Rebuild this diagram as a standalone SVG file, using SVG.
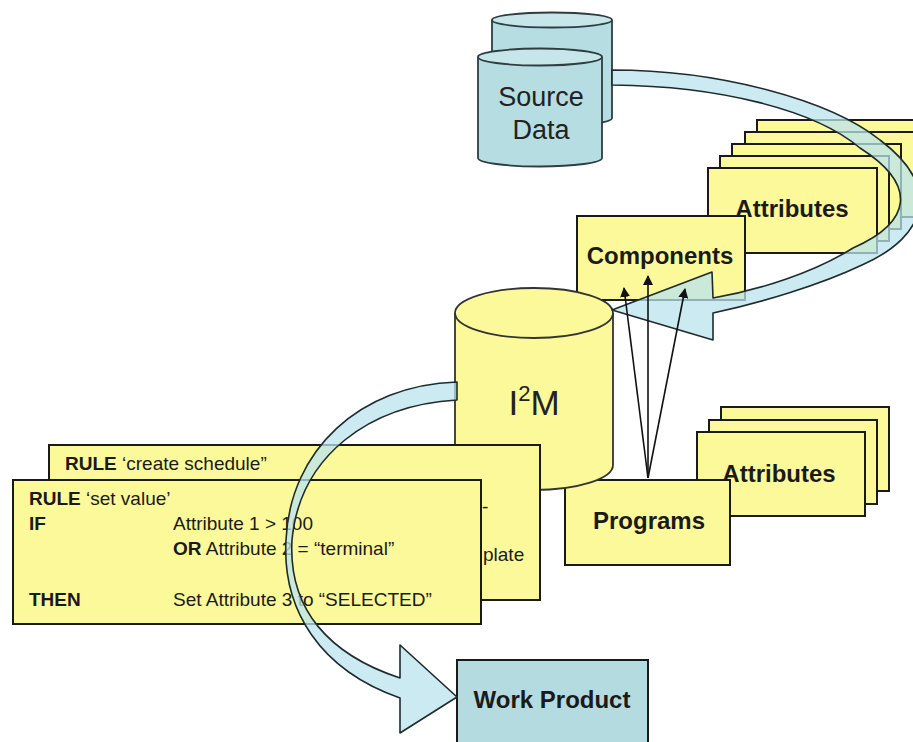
<svg xmlns="http://www.w3.org/2000/svg" width="913" height="742" viewBox="0 0 913 742">
  <defs>
    <marker id="tip" viewBox="0 0 10 10" refX="9" refY="5" markerWidth="10" markerHeight="10" markerUnits="userSpaceOnUse" orient="auto">
      <path d="M0,0 L10,5 L0,10 Z" fill="#111"/>
    </marker>
    <style>
      .box { fill: #fcf99a; stroke: #1a1a1a; stroke-width: 2; }
      .cyl { fill: #fcf99a; stroke: #333; stroke-width: 1.8; }
      .teal { fill: #b6dde2; stroke: #2e3d3f; stroke-width: 1.8; }
      .tealtop { fill: #c6e6ea; stroke: #2e3d3f; stroke-width: 1.8; }
      .flow { fill: #b9e3ec; fill-opacity: 0.75; stroke: #1e2a2c; stroke-width: 1.6; stroke-linejoin: round; }
      .lbl { font-family: "Liberation Sans", Arial, sans-serif; font-weight: bold; font-size: 24px; fill: #1a1a1a; text-anchor: middle; }
      .rule { font-family: "Liberation Sans", Arial, sans-serif; font-size: 19px; fill: #1a1a1a; }
      .b { font-weight: bold; }
      .ptr { stroke: #111; stroke-width: 1.6; fill: none; marker-end: url(#tip); }
    </style>
  </defs>
  <rect width="913" height="742" fill="#ffffff"/>

  <!-- Source Data: two stacked drums -->
  <g id="source-data">
    <path class="teal" d="M492,20 V118 A60,8 0 0 0 612,118 V20"/>
    <ellipse class="tealtop" cx="552" cy="20" rx="60" ry="7.5"/>
    <path class="teal" d="M478,57 V158 A62,8.5 0 0 0 602,158 V57"/>
    <ellipse class="tealtop" cx="540" cy="57" rx="62" ry="8.5"/>
    <text style="font-family:'Liberation Sans',Arial,sans-serif;font-size:27px;fill:#222;text-anchor:middle" x="541" y="106">Source</text>
    <text style="font-family:'Liberation Sans',Arial,sans-serif;font-size:27px;fill:#222;text-anchor:middle" x="541" y="139">Data</text>
  </g>

  <!-- Attribute sheets feeding Components -->
  <g id="attributes-top">
    <rect class="box" x="757" y="120" width="169" height="85"/>
    <rect class="box" x="745" y="132" width="169" height="85"/>
    <rect class="box" x="732" y="144" width="169" height="85"/>
    <rect class="box" x="720" y="156" width="169" height="85"/>
    <rect class="box" x="708" y="168" width="169" height="85"/>
    <text class="lbl" x="792" y="217">Attributes</text>
  </g>

  <g id="components">
    <rect class="box" x="577" y="216" width="168" height="84"/>
    <text class="lbl" x="660" y="264">Components</text>
  </g>

  <!-- Attribute sheets feeding Programs -->
  <g id="attributes-bottom">
    <rect class="box" x="721" y="407" width="168" height="84"/>
    <rect class="box" x="709" y="420" width="168" height="84"/>
    <rect class="box" x="697" y="432" width="168" height="84"/>
    <text class="lbl" x="779" y="482">Attributes</text>
  </g>

  <g id="programs">
    <rect class="box" x="565" y="480" width="165" height="85"/>
    <text class="lbl" x="649" y="529">Programs</text>
  </g>

  <!-- central repository -->
  <g id="i2m">
    <path class="cyl" d="M455,313 V465 A79,25 0 0 0 613,465 V313"/>
    <ellipse class="cyl" cx="534" cy="313" rx="79" ry="25"/>
    <text style="font-family:'Liberation Sans',Arial,sans-serif;font-size:35px;fill:#222;text-anchor:middle" x="534" y="415">I<tspan font-size="22" dy="-14">2</tspan><tspan dy="14">M</tspan></text>
  </g>

  <!-- rule sheets -->
  <g id="rule-create-schedule">
    <rect class="box" x="49" y="445" width="491" height="155"/>
    <text class="rule" x="65" y="470"><tspan class="b">RULE</tspan> ‘create schedule”</text>
    <text class="rule" x="482" y="513">-</text>
    <text class="rule" x="483" y="561">plate</text>
  </g>

  <g id="rule-set-value">
    <rect class="box" x="13" y="480" width="468" height="144"/>
    <text class="rule" x="29" y="505"><tspan class="b">RULE</tspan> ‘set value’</text>
    <text class="rule b" x="29" y="530">IF</text>
    <text class="rule" x="173" y="530">Attribute 1 &gt; 100</text>
    <text class="rule" x="173" y="555"><tspan class="b">OR</tspan> Attribute 2 = “terminal”</text>
    <text class="rule b" x="29" y="606">THEN</text>
    <text class="rule" x="173" y="606">Set Attribute 3 to “SELECTED”</text>
  </g>

  <g id="work-product">
    <rect x="457" y="660" width="191" height="100" fill="#b4dbe0" stroke="#1a1a1a" stroke-width="2"/>
    <text class="lbl" x="552" y="708">Work Product</text>
  </g>

  <!-- connectors -->
  <g id="connectors">
    <!-- source data loop into components -->
    <path class="flow" d="M612,70 C720,70 830,100 880,140 C940,185 930,235 862,265 C820,285 760,303 713,313 L713,340 L612,310 L712,272 L713,298 C760,290 815,272 853,248 C912,222 918,185 860,148 C815,110 720,86 612,85 Z"/>
    <!-- repository out to work product, twisting thin where it crosses the rules -->
    <path class="flow" d="M457,382 C360,385 290,450 286,540 C282,610 320,670 400,698 L400,733 L457,697 L400,645 L400,678 C330,655 288,610 292,540 C300,455 370,405 457,400 Z"/>
    <!-- programs to components -->
    <line class="ptr" x1="648" y1="478" x2="624" y2="288"/>
    <line class="ptr" x1="648" y1="478" x2="648" y2="276"/>
    <line class="ptr" x1="648" y1="478" x2="685" y2="289"/>
  </g>
</svg>
